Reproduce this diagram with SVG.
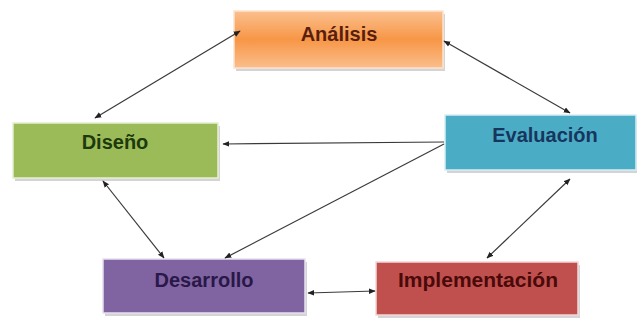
<svg xmlns="http://www.w3.org/2000/svg" width="637" height="320" viewBox="0 0 637 320">
<style>
.lbl{font-family:"Liberation Sans",Arial,sans-serif;font-weight:bold;font-size:20px;text-anchor:middle}
.conn{stroke:#3a3a3a;stroke-width:1.2;fill:none}
.shadow{fill:#b8b8b8;opacity:0.6}
</style>
<defs>
<linearGradient id="gOr" x1="0" y1="0" x2="0" y2="1">
<stop offset="0" stop-color="#FBC08F"/>
<stop offset="0.5" stop-color="#F79646"/>
<stop offset="1" stop-color="#FBBE8C"/>
</linearGradient>
<marker id="ah" viewBox="0 0 10 10" refX="9" refY="5" markerWidth="7" markerHeight="7" orient="auto-start-reverse" markerUnits="userSpaceOnUse">
<path d="M0,1 L10,5 L0,9 z" fill="#222"/>
</marker>
</defs>
<g id="analisis">
<rect class="shadow" x="236" y="14" width="209" height="57"/>
<rect x="234" y="11" width="209" height="57" fill="url(#gOr)" stroke="#FDE3CC" stroke-width="1.5"/>
<text class="lbl" x="339" y="41" fill="#5A1E0E">Análisis</text>
</g>
<g id="diseno">
<rect class="shadow" x="15" y="126" width="205" height="55"/>
<rect x="13" y="123" width="205" height="55" fill="#9BBB59" stroke="#E6F0D2" stroke-width="1.5"/>
<text class="lbl" x="115" y="149" fill="#1E3A0C">Diseño</text>
</g>
<g id="evaluacion">
<rect class="shadow" x="447" y="118" width="191" height="55"/>
<rect x="445" y="115" width="191" height="55" fill="#4BACC6" stroke="#D6EEF4" stroke-width="1.5"/>
<text class="lbl" x="545" y="142" fill="#17365D">Evaluación</text>
</g>
<g id="desarrollo">
<rect class="shadow" x="105" y="262" width="202" height="54"/>
<rect x="103" y="259" width="202" height="54" fill="#8064A2" stroke="#E8E0F0" stroke-width="1.5"/>
<text class="lbl" x="204" y="287" fill="#2A1848">Desarrollo</text>
</g>
<g id="implementacion">
<rect class="shadow" x="378" y="265" width="202" height="53"/>
<rect x="376" y="262" width="202" height="53" fill="#C0504D" stroke="#F2D8D7" stroke-width="1.5"/>
<text class="lbl" x="478" y="287" fill="#4A0A0A" textLength="160" lengthAdjust="spacingAndGlyphs">Implementación</text>
</g>
<g id="connectors">
<line class="conn" x1="95" y1="118" x2="240" y2="31" marker-start="url(#ah)" marker-end="url(#ah)"/>
<line class="conn" x1="444" y1="41" x2="570" y2="113" marker-start="url(#ah)" marker-end="url(#ah)"/>
<line class="conn" x1="444" y1="142" x2="223" y2="144" marker-end="url(#ah)"/>
<line class="conn" x1="444" y1="144" x2="225" y2="258" marker-end="url(#ah)"/>
<line class="conn" x1="103" y1="181" x2="164" y2="258" marker-start="url(#ah)" marker-end="url(#ah)"/>
<line class="conn" x1="570" y1="179" x2="487" y2="258" marker-start="url(#ah)" marker-end="url(#ah)"/>
<line class="conn" x1="308" y1="293" x2="375" y2="291" marker-start="url(#ah)" marker-end="url(#ah)"/>
</g>
</svg>
